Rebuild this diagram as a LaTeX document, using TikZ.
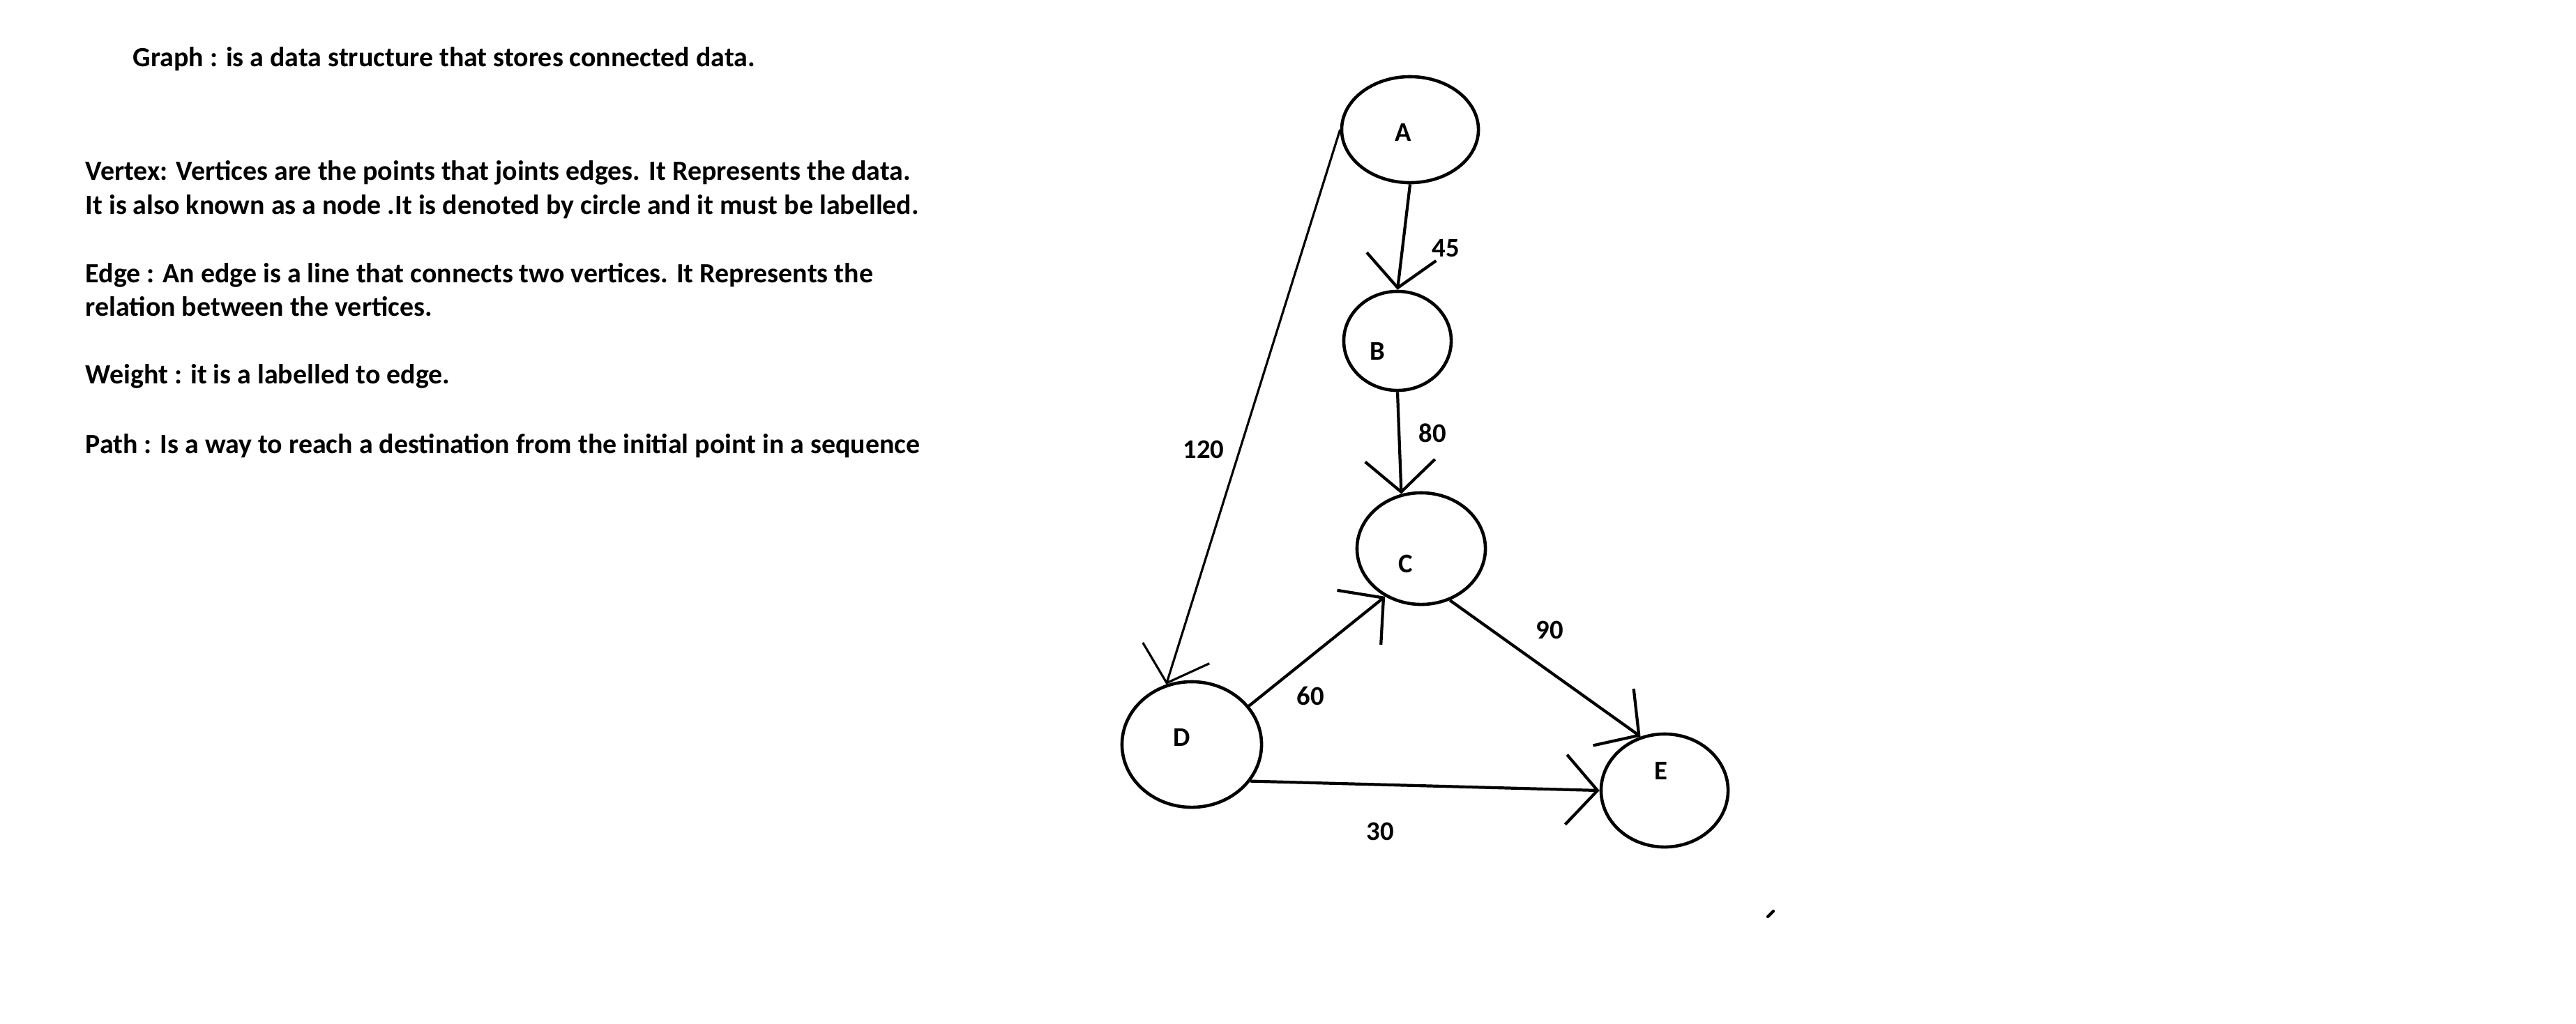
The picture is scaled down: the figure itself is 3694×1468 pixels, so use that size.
\documentclass[tikz,border=0pt]{standalone}
\usepackage{fontspec}
\setmainfont{Carlito}
\usetikzlibrary{arrows.meta, shapes.geometric, calc}
\tikzset{
    my-vertex/.style={
        ellipse, draw, line width=1.3pt, inner sep=0pt
    },
    my-edge/.style={
        line width=1.2pt, -{Straight Barb[length=4.5mm, width=10mm]}
    },
    my-text/.style={
        anchor=base west, inner sep=0pt, font=\bfseries\fontsize{11.35}{14}\selectfont
    },
    my-label/.style={
        inner sep=0pt, font=\bfseries\fontsize{11}{14}\selectfont
    },
}

\begin{document}
\begin{tikzpicture}[x=0.01cm, y=-0.01cm]

        % PAGE
        \path[fill=white] (0,0) rectangle (3694,1468);
        \useasboundingbox (0,0) rectangle (3694,1468);

        % DEFINITIONS
        \node[my-text] (GRAPH)   at (190, 95)  {Graph : is a data structure that stores connected data.};
        \node[my-text] (VERTEX1) at (122, 258) {Vertex: Vertices are the points that joints edges. It Represents the data.};
        \node[my-text] (VERTEX2) at (122, 307) {It is also known as a node .It is denoted by circle and it must be labelled.};
        \node[my-text] (EDGE1)   at (122, 405) {Edge : An edge is a line that connects two vertices. It Represents the};
        \node[my-text] (EDGE2)   at (122, 453) {relation between the vertices.};
        \node[my-text] (WEIGHT)  at (122, 550) {Weight : it is a labelled to edge.};
        \node[my-text] (PATH)    at (122, 650) {Path : Is a way to reach a destination from the initial point in a sequence};

        % VERTICES
        \node[my-vertex, minimum width=19.6mm, minimum height=15.2mm] (A) at (2022, 186)  {};
        \node[my-vertex, minimum width=15.4mm, minimum height=14.2mm] (B) at (2004, 489)  {};
        \node[my-vertex, minimum width=18.4mm, minimum height=16.0mm] (C) at (2038, 787)  {};
        \node[my-vertex, minimum width=20.0mm, minimum height=18.0mm] (D) at (1709, 1068) {};
        \node[my-vertex, minimum width=18.2mm, minimum height=16.2mm] (E) at (2387, 1134) {};

        % VERTEX NAMES
        \node[my-label] (ANAME) at ($(A) + (-10, 4)$)  {A};
        \node[my-label] (BNAME) at ($(B) + (-29, 15)$) {B};
        \node[my-label] (CNAME) at ($(C) + (-22, 22)$) {C};
        \node[my-label] (DNAME) at ($(D) + (-14, -10)$) {D};
        \node[my-label] (ENAME) at ($(E) + (-5, -28)$) {E};

        % EDGES
        \draw[my-edge] (A.south) -- (B.north);
        \draw[my-edge, line width=.9pt] (A.west) -- (D.113);
        \draw[my-edge] (B.south) -- (C.110);
        \draw[my-edge] (D.34) -- (C.233);
        \draw[my-edge] (C.299) -- (E.114);
        \draw[my-edge] (D.328) -- (E.west);

        % WEIGHTS
        \node[my-label] (W45)  at (2073, 356)  {45};
        \node[my-label] (W80)  at (2054, 621)  {80};
        \node[my-label] (W120) at (1726, 645)  {120};
        \node[my-label] (W60)  at (1879, 998)  {60};
        \node[my-label] (W90)  at (2222, 904)  {90};
        \node[my-label] (W30)  at (1979, 1193) {30};

        % STRAY MARK
        \coordinate (MARK1) at (2535, 1315);
        \coordinate (MARK2) at (2543, 1307);
        \draw[line width=1.2pt, line cap=round] (MARK1) -- (MARK2);

\end{tikzpicture}
\end{document}
